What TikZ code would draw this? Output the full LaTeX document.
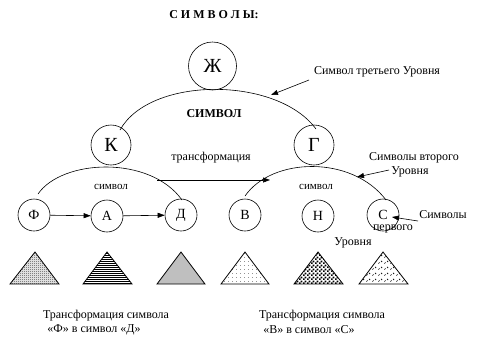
\documentclass[tikz,border=0pt]{standalone}
\usepackage{fontspec}
\setmainfont{Liberation Serif}
\usetikzlibrary{arrows.meta,patterns.meta}
\tikzdeclarepattern{name=finecheck,type=uncolored,bottom left={(0pt,0pt)},top right={(2pt,2pt)},tile size={(2pt,2pt)},
  code={\fill (0pt,0pt) rectangle (1pt,1pt); \fill (1pt,1pt) rectangle (2pt,2pt);}}
\tikzdeclarepattern{name=hstripes,type=uncolored,bottom left={(0pt,0pt)},top right={(2.4pt,2.4pt)},tile size={(2.4pt,2.4pt)},
  code={\fill (0pt,0pt) rectangle (2.4pt,1.1pt);}}
\tikzdeclarepattern{name=coarsecheck,type=uncolored,bottom left={(0pt,0pt)},top right={(3.6pt,3.6pt)},tile size={(3.6pt,3.6pt)},
  code={\fill (0pt,0pt) rectangle (1.8pt,1.8pt); \fill (1.8pt,1.8pt) rectangle (3.6pt,3.6pt);}}
\tikzdeclarepattern{name=sparsedots,type=uncolored,bottom left={(0pt,0pt)},top right={(4pt,4pt)},tile size={(4pt,4pt)},
  code={\fill (0pt,0pt) rectangle (0.9pt,0.9pt);}}
\tikzdeclarepattern{name=ticks,type=uncolored,bottom left={(0pt,0pt)},top right={(6pt,6pt)},tile size={(6pt,6pt)},
  code={\draw[line width=0.7pt] (0.5pt,0.5pt) -- (1.8pt,1.8pt); \draw[line width=0.7pt] (3.5pt,3.5pt) -- (4.8pt,2.2pt);}}
\begin{document}
\begin{tikzpicture}[x=1pt,y=-1pt,
  line width=0.6pt,
  bigc/.style={draw,circle,inner sep=0pt,minimum size=48pt,font=\fontsize{20}{22}\selectfont},
  midc/.style={draw,circle,inner sep=0pt,minimum size=40pt,font=\fontsize{20}{22}\selectfont},
  smallc/.style={draw,circle,inner sep=0pt,minimum size=32pt,font=\fontsize{14}{16}\selectfont},
  lbl/.style={inner sep=0pt,font=\fontsize{12}{14}\selectfont},
  slbl/.style={inner sep=0pt,font=\fontsize{11}{13}\selectfont},
  arr/.style={-{Triangle[length=7pt,width=5pt]}},
  tri/.style={draw,line width=0.8pt}]
\useasboundingbox (0,0) rectangle (478,341);
% title
\node[lbl,font=\fontsize{12}{14}\selectfont\bfseries] (title) at (214,15) {С И М В О Л Ы:};
% circles
\node[bigc] (zh) at (212.5,66) {Ж};
\node[midc] (k) at (111,145) {К};
\node[midc] (g) at (314,145) {Г};
\node[smallc] (f) at (34,215) {Ф};
\node[smallc] (a) at (107,216) {А};
\node[smallc] (d) at (181,215) {Д};
\node[smallc] (v) at (245,215) {В};
\node[smallc] (n) at (318,216) {Н};
\node[smallc] (s) at (383,215) {С};
% arcs
\coordinate (bigL) at (120,130);
\coordinate (bigR) at (316,129);
\draw (bigL) .. controls (150,76) and (277,76) .. (bigR);
\coordinate (lL) at (38,194);
\coordinate (lR) at (182,200);
\draw (lL) .. controls (62,159) and (150,155) .. (lR);
\coordinate (rL) at (245,196);
\coordinate (rR) at (386,200);
\draw (rL) .. controls (272,157) and (352,155) .. (rR);
% arc labels
\node[lbl,font=\fontsize{12}{14}\selectfont\bfseries] (sym3) at (214,114) {СИМВОЛ};
\node[slbl] (sym2l) at (111,187) {символ};
\node[slbl] (sym2r) at (316,187) {символ};
% transformation
\node[lbl] (tr) at (211,158) {трансформация};
\coordinate (trA) at (157,180);
\coordinate (trB) at (270,180);
\draw[arr] (trA) -- (trB);
\draw[arr] (f) -- (a);
\draw[arr] (a) -- (d);
% side labels
\node[lbl] (l3) at (377,72) {Символ третьего Уровня};
\coordinate (l3t) at (271,95);
\draw[arr] (309,80) -- (l3t);
\node[lbl] (l2a) at (414,158) {Символы второго};
\node[lbl] (l2b) at (410,172) {Уровня};
\coordinate (l2t) at (357,177);
\draw[arr] (389,170) -- (l2t);
\node[lbl] (l1a) at (443,215) {Символы};
\node[lbl] (l1b) at (393,229) {первого};
\node[lbl] (l1c) at (353,243) {Уровня};
\coordinate (l1t) at (392,217);
\draw[arr] (418,221) -- (l1t);
% triangles
\draw[tri,pattern=finecheck] (10,284) -- (35,252) -- (59,284) -- cycle;
\draw[tri,pattern=hstripes] (83,284) -- (107,252) -- (132,284) -- cycle;
\draw[tri,fill=black!25] (157,284) -- (181,252) -- (205,284) -- cycle;
\draw[tri,pattern=sparsedots] (221,284) -- (245,252) -- (269,284) -- cycle;
\draw[tri,pattern=coarsecheck] (294,284) -- (318,252) -- (343,284) -- cycle;
\draw[tri,pattern=ticks] (359,284) -- (383,252) -- (408,284) -- cycle;
% captions
\node[lbl] (c1a) at (106,316) {Трансформация символа};
\node[lbl] (c1b) at (94,330) {«Ф» в символ «Д»};
\node[lbl] (c2a) at (322,316) {Трансформация символа};
\node[lbl] (c2b) at (309,330) {«В» в символ «С»};
\end{tikzpicture}
\end{document}
